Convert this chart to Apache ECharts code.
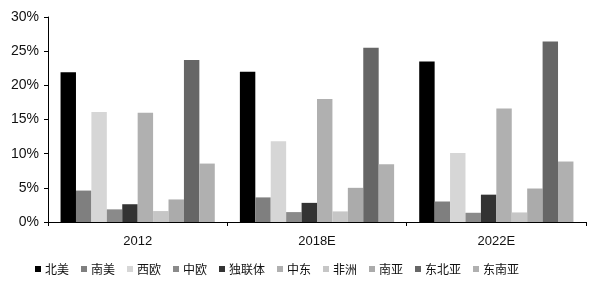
<!DOCTYPE html>
<html><head><meta charset="utf-8">
<script src="https://cdn.jsdelivr.net/npm/echarts@6/dist/echarts.min.js"></script>
<style>html,body{margin:0;padding:0;background:#fff}#c{width:600px;height:288px}</style>
</head><body><div id="c"></div>
<script>
const categories = ['2012', '2018E', '2022E'];
const seriesNames = ['北美','南美','西欧','中欧','独联体','中东','非洲','南亚','东北亚','东南亚'];
const 北美 = [21.9, 22.0, 23.5];
const 南美 = [4.6, 3.6, 3.0];
const 西欧 = [16.1, 11.8, 10.1];
const 中欧 = [1.85, 1.45, 1.35];
const 独联体 = [2.6, 2.8, 4.0];
const 中东 = [16.0, 18.0, 16.6];
const 非洲 = [1.6, 1.55, 1.4];
const 南亚 = [3.3, 5.0, 4.9];
const 东北亚 = [23.7, 25.5, 26.4];
const 东南亚 = [8.55, 8.45, 8.85];
const seriesValues = [北美, 南美, 西欧, 中欧, 独联体, 中东, 非洲, 南亚, 东北亚, 东南亚];
const yTicks = [0, 5, 10, 15, 20, 25, 30];
const colors = ['#000000','#7f7f7f','#d6d6d6','#8a8a8a','#333333','#b0b0b0','#c6c6c6','#ababab','#666666','#b0b0b0'];

const chart = echarts.init(document.getElementById('c'));
chart.setOption({
  animation: false,
  textStyle: { fontFamily: 'Liberation Sans, Arial, sans-serif' },
  grid: { left: 48, right: 14, top: 17, bottom: 66, containLabel: false },
  legend: {
    top: 258, left: 30,
    itemWidth: 6, itemHeight: 6, itemGap: 12,
    icon: 'rect',
    textStyle: { fontSize: 12, color: '#111', padding: [0,0,0,-1], fontFamily: 'Noto Sans CJK SC, sans-serif' },
    data: seriesNames
  },
  xAxis: {
    type: 'category', data: categories,
    axisLine: { lineStyle: { color: '#000', width: 1 } },
    axisTick: { show: true, length: 4, lineStyle: { color: '#000' } },
    axisLabel: { color: '#111', fontSize: 13, margin: 13 }
  },
  yAxis: {
    type: 'value', min: 0, max: 30, interval: 5,
    axisLine: { show: true, lineStyle: { color: '#000' } },
    axisTick: { show: true, length: 4, lineStyle: { color: '#000' } },
    splitLine: { show: false },
    axisLabel: { color: '#111', fontSize: 14, margin: 9, formatter: v => yTicks.includes(v) ? v + '%' : '' }
  },
  series: seriesNames.map((n, i) => ({
    name: n, type: 'bar', data: seriesValues[i],
    barGap: '0%', barCategoryGap: '14%',
    itemStyle: { color: colors[i] }
  }))
});
</script></body></html>
